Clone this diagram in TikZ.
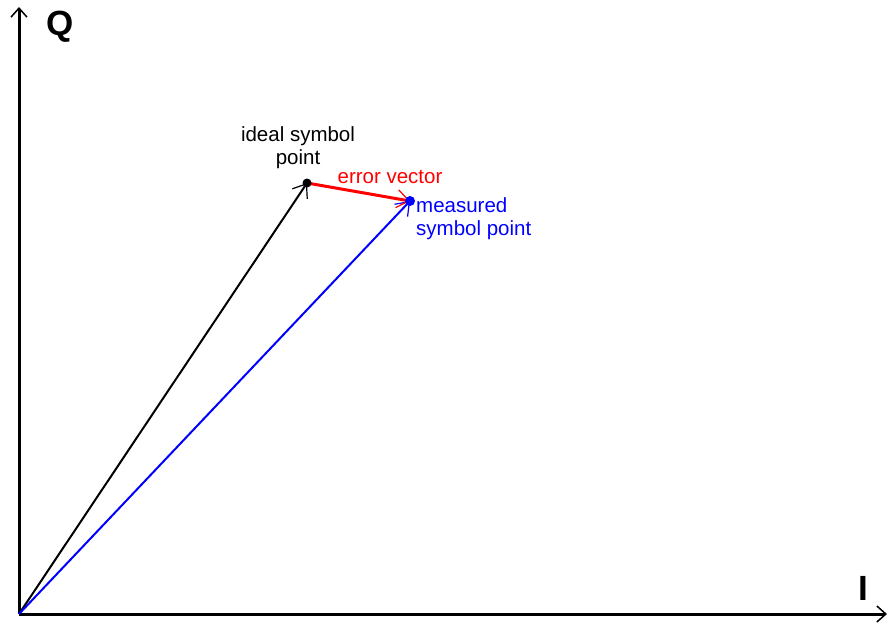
\documentclass[tikz,border=0pt]{standalone}
\usepackage{fontspec}
\setmainfont{Liberation Sans}
\usetikzlibrary{arrows.meta}
\begin{document}
\begin{tikzpicture}[x=1pt,y=-1pt,
  axis/.style={line width=3pt,-{Straight Barb[length=9pt,width=16pt,line width=1.5pt]}},
  vec/.style={line width=2pt,-{Straight Barb[length=12pt,width=18pt,line width=1.2pt]}},
  lbl/.style={font=\fontsize{20.5}{23}\selectfont,inner sep=0pt},
  big/.style={font=\fontsize{35}{35}\selectfont\bfseries,inner sep=0pt}]
\useasboundingbox (0,0) rectangle (888,625);
\coordinate (O) at (19,614);
\coordinate (Xend) at (887,614);
\coordinate (Yend) at (19,7);
\coordinate (Ip) at (307,183);
\coordinate (Mp) at (410,201);
\draw[axis] (O) -- (Xend);
\draw[axis] (O) -- (Yend);
\draw[vec,black] (O) -- (Ip);
\draw[vec,blue] (O) -- (Mp);
\draw[vec,red,line width=3pt] (Ip) -- (Mp);
\fill[black] (Ip) circle (4.5);
\fill[blue] (Mp) circle (5);
\node[big] (Q) at (60,27) {Q};
\node[big] (I) at (863,588) {I};
\node[lbl,align=center] (il) at (298,148) {ideal symbol\\point};
\node[lbl,red] (el) at (390,177) {error vector};
\node[lbl,blue,align=left,anchor=west] (ml) at (416,219) {measured\\symbol point};
\end{tikzpicture}
\end{document}
